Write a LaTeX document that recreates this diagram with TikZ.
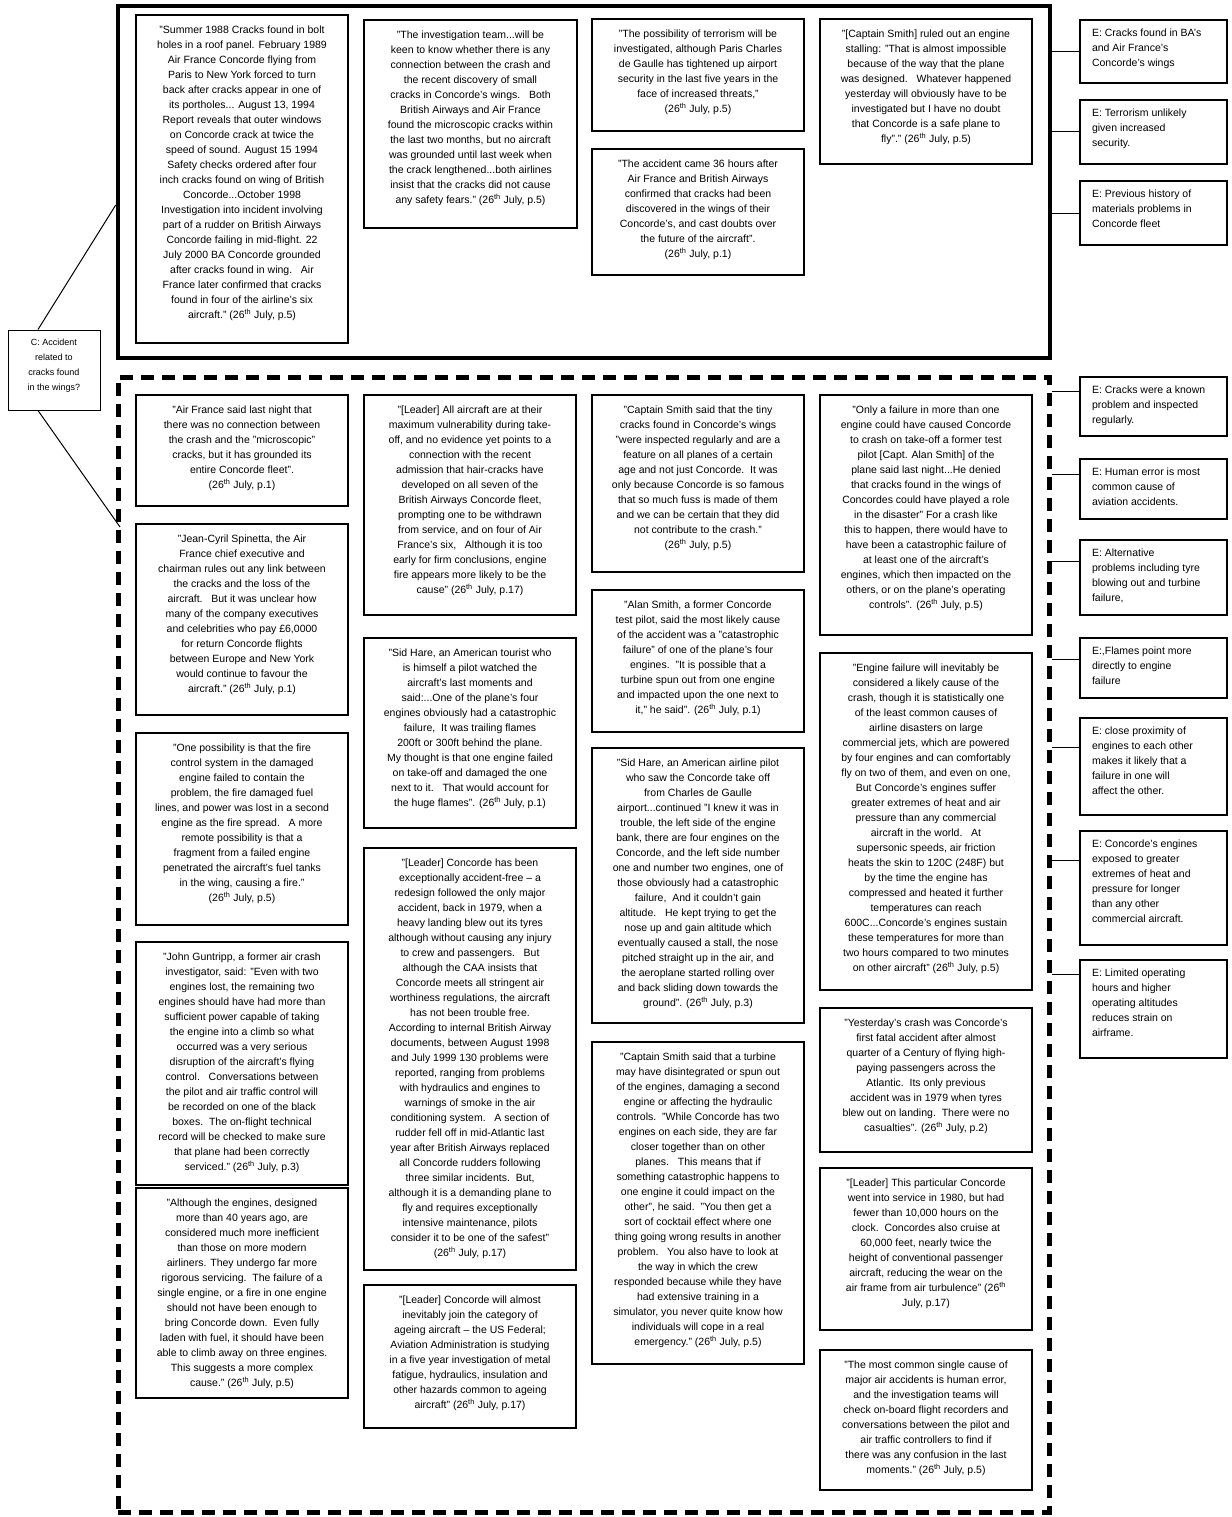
\documentclass[tikz,border=0pt]{standalone}
\usepackage{fontspec}
\setmainfont{Liberation Sans}
\usetikzlibrary{calc}
\newcommand\ts{\textsuperscript{th}}
% quote box: style, name, x1, y1, x2, y2, text
\newcommand\qn[7]{\node[#1] (#2) at ({(#3+#5)/2},{(#4+#6)/2}) {\parbox[c][\numexpr#6-#4\relax pt][t]{\numexpr#5-#3\relax pt}{\centering\vspace*{11pt}#7\par}};}
% evidence box (left aligned)
\newcommand\en[7]{\node[#1] (#2) at ({(#3+#5)/2},{(#4+#6)/2}) {\parbox[c][\numexpr#6-#4\relax pt][t]{\numexpr#5-#3\relax pt}{\raggedright\leftskip=12pt\vspace*{9pt}#7\par}};}
\tikzset{
  qb/.style={draw, line width=1.3pt, inner sep=0pt, font=\fontsize{10.5}{15}\selectfont},
  qbt/.style={qb, line width=2.6pt},
  frameline/.style={draw, line width=4.5pt, inner sep=0pt},
  dframeline/.style={draw, line width=5pt, inner sep=0pt, dash pattern=on 13pt off 8pt},
  conn/.style={line width=1pt},
}
\begin{document}
\begin{tikzpicture}[x=1pt,y=-1pt]
\useasboundingbox (0,0) rectangle (1231,1517);
\fill[white] (0,0) rectangle (1231,1517);
% frames
\node[frameline, minimum width=932pt, minimum height=352pt] (tframe) at (584,182) {};
\node[dframeline, minimum width=931pt, minimum height=1135pt] (dframe) at (583.5,944.5) {};

% top quotes
\qn{qb}{T1}{136}{15}{348}{343}{"Summer 1988 Cracks found in bolt\\holes in a roof panel. February 1989\\Air France Concorde flying from\\Paris to New York forced to turn\\back after cracks appear in one of\\its portholes... August 13, 1994\\Report reveals that outer windows\\on Concorde crack at twice the\\speed of sound. August 15 1994\\Safety checks ordered after four\\inch cracks found on wing of British\\Concorde...October 1998\\Investigation into incident involving\\part of a rudder on British Airways\\Concorde failing in mid-flight. 22\\July 2000 BA Concorde grounded\\after cracks found in wing.\ \ \ Air\\France later confirmed that cracks\\found in four of the airline's six\\aircraft." (26\ts{} July, p.5)}
\qn{qb}{T2}{364}{20}{577}{228}{"The investigation team...will be\\keen to know whether there is any\\connection between the crash and\\the recent discovery of small\\cracks in Concorde's wings.\ \ \ Both\\British Airways and Air France\\found the microscopic cracks within\\the last two months, but no aircraft\\was grounded until last week when\\the crack lengthened...both airlines\\insist that the cracks did not cause\\any safety fears." (26\ts{} July, p.5)}
\qn{qb}{T3}{592}{19}{804}{131}{"The possibility of terrorism will be\\investigated, although Paris Charles\\de Gaulle has tightened up airport\\security in the last five years in the\\face of increased threats,"\\(26\ts{} July, p.5)}
\qn{qb}{T4}{592}{149}{804}{275}{"The accident came 36 hours after\\Air France and British Airways\\confirmed that cracks had been\\discovered in the wings of their\\Concorde's, and cast doubts over\\the future of the aircraft".\\(26\ts{} July, p.1)}
\qn{qb}{T5}{820}{19}{1032}{164}{"{}[Captain Smith] ruled out an engine\\stalling: "That is almost impossible\\because of the way that the plane\\was designed.\ \ \ Whatever happened\\yesterday will obviously have to be\\investigated but I have no doubt\\that Concorde is a safe plane to\\fly"." (26\ts{} July, p.5)}

% column 1
\qn{qbt}{L1}{136}{395}{348}{506}{"Air France said last night that\\there was no connection between\\the crash and the "microscopic"\\cracks, but it has grounded its\\entire Concorde fleet".\\(26\ts{} July, p.1)}
\qn{qbt}{L2}{136}{524}{348}{715}{"Jean-Cyril Spinetta, the Air\\France chief executive and\\chairman rules out any link between\\the cracks and the loss of the\\aircraft.\ \ \ But it was unclear how\\many of the company executives\\and celebrities who pay £6,0000\\for return Concorde flights\\between Europe and New York\\would continue to favour the\\aircraft." (26\ts{} July, p.1)}
\qn{qb}{L3}{136}{733}{348}{925}{"One possibility is that the fire\\control system in the damaged\\engine failed to contain the\\problem, the fire damaged fuel\\lines, and power was lost in a second\\engine as the fire spread.\ \ \ A more\\remote possibility is that a\\fragment from a failed engine\\penetrated the aircraft's fuel tanks\\in the wing, causing a fire."\\(26\ts{} July, p.5)}
\qn{qb}{L4}{136}{942}{348}{1185}{"John Guntripp, a former air crash\\investigator, said: "Even with two\\engines lost, the remaining two\\engines should have had more than\\sufficient power capable of taking\\the engine into a climb so what\\occurred was a very serious\\disruption of the aircraft's flying\\control.\ \ \ Conversations between\\the pilot and air traffic control will\\be recorded on one of the black\\boxes.\ \ The on-flight technical\\record will be checked to make sure\\that plane had been correctly\\serviced." (26\ts{} July, p.3)}
\qn{qb}{L5}{136}{1188}{348}{1398}{"Although the engines, designed\\more than 40 years ago, are\\considered much more inefficient\\than those on more modern\\airliners. They undergo far more\\rigorous servicing.\ \ The failure of a\\single engine, or a fire in one engine\\should not have been enough to\\bring Concorde down.\ \ Even fully\\laden with fuel, it should have been\\able to climb away on three engines.\\This suggests a more complex\\cause." (26\ts{} July, p.5)}

% column 2
\qn{qbt}{M1}{364}{395}{576}{615}{"{}[Leader] All aircraft are at their\\maximum vulnerability during take-\\off, and no evidence yet points to a\\connection with the recent\\admission that hair-cracks have\\developed on all seven of the\\British Airways Concorde fleet,\\prompting one to be withdrawn\\from service, and on four of Air\\France's six,\ \ \ Although it is too\\early for firm conclusions, engine\\fire appears more likely to be the\\cause" (26\ts{} July, p.17)}
\qn{qb}{M2}{364}{638}{576}{828}{"Sid Hare, an American tourist who\\is himself a pilot watched the\\aircraft's last moments and\\said:...One of the plane's four\\engines obviously had a catastrophic\\failure,\ \ It was trailing flames\\200ft or 300ft behind the plane.\\My thought is that one engine failed\\on take-off and damaged the one\\next to it.\ \ \ That would account for\\the huge flames". (26\ts{} July, p.1)}
\qn{qb}{M3}{364}{848}{576}{1270}{"{}[Leader] Concorde has been\\exceptionally accident-free -- a\\redesign followed the only major\\accident, back in 1979, when a\\heavy landing blew out its tyres\\although without causing any injury\\to crew and passengers.\ \ \ But\\although the CAA insists that\\Concorde meets all stringent air\\worthiness regulations, the aircraft\\has not been trouble free.\\According to internal British Airway\\documents, between August 1998\\and July 1999 130 problems were\\reported, ranging from problems\\with hydraulics and engines to\\warnings of smoke in the air\\conditioning system.\ \ \ A section of\\rudder fell off in mid-Atlantic last\\year after British Airways replaced\\all Concorde rudders following\\three similar incidents.\ \ But,\\although it is a demanding plane to\\fly and requires exceptionally\\intensive maintenance, pilots\\consider it to be one of the safest"\\(26\ts{} July, p.17)}
\qn{qb}{M4}{364}{1285}{576}{1428}{"{}[Leader] Concorde will almost\\inevitably join the category of\\ageing aircraft -- the US Federal;\\Aviation Administration is studying\\in a five year investigation of metal\\fatigue, hydraulics, insulation and\\other hazards common to ageing\\aircraft" (26\ts{} July, p.17)}

% column 3
\qn{qbt}{N1}{592}{395}{804}{572}{"Captain Smith said that the tiny\\cracks found in Concorde's wings\\"were inspected regularly and are a\\feature on all planes of a certain\\age and not just Concorde.\ \ It was\\only because Concorde is so famous\\that so much fuss is made of them\\and we can be certain that they did\\not contribute to the crash."\\(26\ts{} July, p.5)}
\qn{qb}{N2}{592}{590}{804}{732}{"Alan Smith, a former Concorde\\test pilot, said the most likely cause\\of the accident was a "catastrophic\\failure" of one of the plane's four\\engines.\ \ "It is possible that a\\turbine spun out from one engine\\and impacted upon the one next to\\it," he said". (26\ts{} July, p.1)}
\qn{qb}{N3}{592}{748}{804}{1023}{"Sid Hare, an American airline pilot\\who saw the Concorde take off\\from Charles de Gaulle\\airport...continued "I knew it was in\\trouble, the left side of the engine\\bank, there are four engines on the\\Concorde, and the left side number\\one and number two engines, one of\\those obviously had a catastrophic\\failure,\ \ And it couldn't gain\\altitude.\ \ \ He kept trying to get the\\nose up and gain altitude which\\eventually caused a stall, the nose\\pitched straight up in the air, and\\the aeroplane started rolling over\\and back sliding down towards the\\ground". (26\ts{} July, p.3)}
\qn{qb}{N4}{592}{1042}{804}{1364}{"Captain Smith said that a turbine\\may have disintegrated or spun out\\of the engines, damaging a second\\engine or affecting the hydraulic\\controls.\ \ "While Concorde has two\\engines on each side, they are far\\closer together than on other\\planes.\ \ \ This means that if\\something catastrophic happens to\\one engine it could impact on the\\other", he said.\ \ "You then get a\\sort of cocktail effect where one\\thing going wrong results in another\\problem.\ \ \ You also have to look at\\the way in which the crew\\responded because while they have\\had extensive training in a\\simulator, you never quite know how\\individuals will cope in a real\\emergency." (26\ts{} July, p.5)}

% column 4
\qn{qbt}{P1}{820}{395}{1032}{635}{"Only a failure in more than one\\engine could have caused Concorde\\to crash on take-off a former test\\pilot [Capt. Alan Smith] of the\\plane said last night...He denied\\that cracks found in the wings of\\Concordes could have played a role\\in the disaster" For a crash like\\this to happen, there would have to\\have been a catastrophic failure of\\at least one of the aircraft's\\engines, which then impacted on the\\others, or on the plane's operating\\controls". (26\ts{} July, p.5)}
\qn{qb}{P2}{820}{653}{1032}{990}{"Engine failure will inevitably be\\considered a likely cause of the\\crash, though it is statistically one\\of the least common causes of\\airline disasters on large\\commercial jets, which are powered\\by four engines and can comfortably\\fly on two of them, and even on one,\\But Concorde's engines suffer\\greater extremes of heat and air\\pressure than any commercial\\aircraft in the world.\ \ \ At\\supersonic speeds, air friction\\heats the skin to 120C (248F) but\\by the time the engine has\\compressed and heated it further\\temperatures can reach\\600C...Concorde's engines sustain\\these temperatures for more than\\two hours compared to two minutes\\on other aircraft" (26\ts{} July, p.5)}
\qn{qb}{P3}{820}{1008}{1032}{1152}{"Yesterday's crash was Concorde's\\first fatal accident after almost\\quarter of a Century of flying high-\\paying passengers across the\\Atlantic.\ \ Its only previous\\accident was in 1979 when tyres\\blew out on landing.\ \ There were no\\casualties". (26\ts{} July, p.2)}
\qn{qb}{P4}{820}{1168}{1032}{1330}{"{}[Leader] This particular Concorde\\went into service in 1980, but had\\fewer than 10,000 hours on the\\clock.\ \ Concordes also cruise at\\60,000 feet, nearly twice the\\height of conventional passenger\\aircraft, reducing the wear on the\\air frame from air turbulence" (26\ts\\July, p.17)}
\qn{qb}{P5}{820}{1350}{1032}{1490}{"The most common single cause of\\major air accidents is human error,\\and the investigation teams will\\check on-board flight recorders and\\conversations between the pilot and\\air traffic controllers to find if\\there was any confusion in the last\\moments." (26\ts{} July, p.5)}

% evidence boxes
\en{qb}{E1}{1080}{20}{1227}{83}{E: Cracks found in BA's\\and Air France's\\Concorde's wings}
\en{qb}{E2}{1080}{100}{1227}{164}{E: Terrorism unlikely\\given increased\\security.}
\en{qb}{E3}{1080}{181}{1227}{245}{E: Previous history of\\materials problems in\\Concorde fleet}
\en{qb}{E4}{1080}{377}{1227}{436}{E: Cracks were a known\\problem and inspected\\regularly.}
\en{qb}{E5}{1080}{459}{1227}{519}{E: Human error is most\\common cause of\\aviation accidents.}
\en{qb}{E6}{1080}{540}{1227}{615}{E: Alternative\\problems including tyre\\blowing out and turbine\\failure,}
\en{qb}{E7}{1080}{638}{1227}{698}{E:,Flames point more\\directly to engine\\failure}
\en{qb}{E8}{1080}{718}{1227}{815}{E: close proximity of\\engines to each other\\makes it likely that a\\failure in one will\\affect the other.}
\en{qb}{E9}{1080}{831}{1227}{945}{E: Concorde's engines\\exposed to greater\\extremes of heat and\\pressure for longer\\than any other\\commercial aircraft.}
\en{qb}{E10}{1080}{960}{1227}{1058}{E: Limited operating\\hours and higher\\operating altitudes\\reduces strain on\\airframe.}

% claim box
\node[draw, line width=1pt, inner sep=0pt, font=\fontsize{9}{15}\selectfont] (C) at (54,370) {\parbox[c][80pt][t]{92pt}{\centering\vspace*{9pt}C: Accident\\related to\\cracks found\\in the wings?\par}};

% connectors to evidence
\draw[conn] (E1.west) -- (E1.west -| tframe.east);
\draw[conn] (E2.west) -- (E2.west -| tframe.east);
\draw[conn] (E3.west) -- (E3.west -| tframe.east);
\foreach \e/\d in {E4/15,E5/16,E6/22,E7/22,E8/30,E9/30,E10/15}{
  \coordinate (c\e) at ([yshift=-\d pt]\e.north west);
  \draw[conn] (c\e) -- (c\e -| dframe.east);
}
% connectors from claim
\coordinate (cu) at ([xshift=-16pt]C.north);
\coordinate (cl) at ([xshift=-16pt]C.south);
\coordinate (tu) at ([yshift=-23pt]tframe.west);
\coordinate (dl) at (120,527);
\draw[conn] (cu) -- (tu);
\draw[conn] (cl) -- (dl);
\end{tikzpicture}
\end{document}
